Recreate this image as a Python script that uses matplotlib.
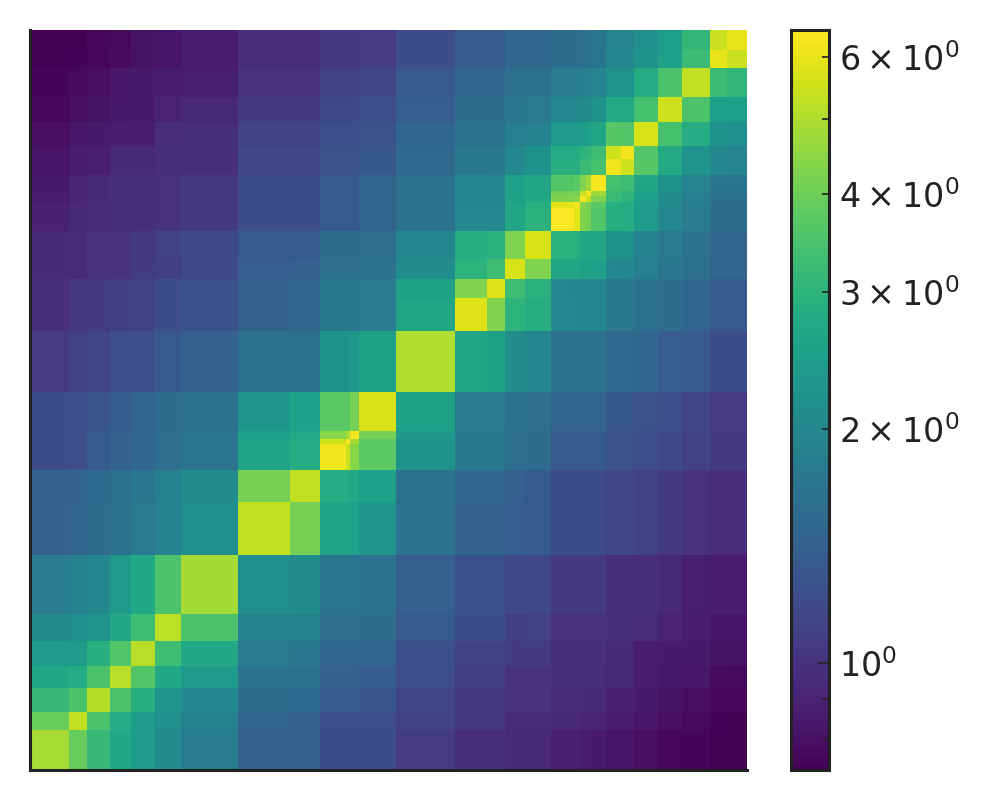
import numpy as np
import matplotlib
matplotlib.use("Agg")
import matplotlib.pyplot as plt
from matplotlib.colors import LogNorm

# Cell sizes along each axis (rows counted from the bottom)
cell_widths = [39,18,23,21,24,26,57,52,30,26,4,9,37,59,32,18,20,26,23,6,6,5,15,15,13,24,24,28,17,20]
cell_heights = [40,18,24,22,25,27,59,53,32,26,5,8,39,61,33,19,20,28,23,6,6,5,16,16,13,24,25,29,18,20]

# Upper triangle of the symmetric matrix, one list per row
row_00 = [4.9,3.9,3.15,2.7,2.4,2.1,1.8,1.43,1.43,1.2,1.2,1.2,1.2,1.07,.98,.98,.94,.94,.89,.89,.87,.87,.85,.82,.82,.79,.76,.75,.73,.73]
row_01 = [5.3,3.5,2.8,2.42,2.15,1.87,1.48,1.45,1.22,1.22,1.22,1.22,1.1,1.03,1.03,.95,.95,.93,.93,.91,.91,.91,.86,.86,.83,.79,.77,.74,.73]
row_02 = [5.1,3.5,2.9,2.25,2.0,1.58,1.55,1.35,1.35,1.35,1.3,1.13,1.05,1.05,1.0,1.0,.95,.95,.93,.93,.93,.88,.88,.85,.81,.79,.76,.76]
row_03 = [5.2,3.6,2.7,2.37,1.65,1.62,1.43,1.43,1.43,1.37,1.22,1.08,1.08,1.0,1.0,.97,.97,.97,.97,.97,.93,.93,.87,.84,.83,.78,.77]
row_04 = [5.2,3.3,2.7,1.78,1.72,1.5,1.5,1.5,1.47,1.23,1.1,1.1,1.05,1.05,.98,.98,.98,.98,.98,.94,.94,.87,.85,.85,.81,.81]
row_05 = [5.25,3.5,1.92,1.9,1.6,1.6,1.6,1.58,1.33,1.2,1.2,1.08,1.1,1.0,1.0,1.0,1.0,1.0,.98,.98,.96,.9,.87,.82,.82]
row_06 = [4.85,2.15,2.1,1.7,1.7,1.7,1.65,1.4,1.26,1.26,1.17,1.17,1.06,1.06,1.06,1.06,1.06,.98,.98,.97,.93,.88,.86,.86]
row_07 = [5.3,4.1,2.6,2.6,2.5,2.3,1.67,1.45,1.45,1.38,1.33,1.2,1.2,1.2,1.2,1.2,1.15,1.15,1.1,1.05,1.0,.96,.96]
row_08 = [5.3,2.8,2.8,2.7,2.5,1.67,1.5,1.5,1.4,1.35,1.2,1.2,1.2,1.2,1.2,1.15,1.15,1.1,1.05,1.0,.96,.96]
row_09 = [6.2,5.5,4.4,3.7,2.2,1.76,1.76,1.6,1.58,1.33,1.33,1.33,1.33,1.33,1.27,1.27,1.22,1.18,1.1,1.05,1.05]
row_10 = [6.4,4.9,3.75,2.2,1.76,1.76,1.6,1.58,1.33,1.33,1.33,1.33,1.33,1.27,1.27,1.22,1.18,1.1,1.05,1.05]
row_11 = [6.3,4.1,2.35,1.76,1.76,1.6,1.58,1.33,1.33,1.33,1.33,1.33,1.27,1.27,1.22,1.18,1.1,1.05,1.05]
row_12 = [5.7,2.55,1.8,1.8,1.65,1.6,1.47,1.47,1.47,1.47,1.47,1.32,1.32,1.27,1.22,1.13,1.07,1.07]
row_13 = [5.0,2.65,2.55,2.1,2.0,1.67,1.67,1.67,1.67,1.67,1.52,1.52,1.5,1.38,1.33,1.2,1.2]
row_14 = [5.85,4.3,3.0,2.85,2.05,2.05,2.0,2.0,2.0,1.75,1.75,1.65,1.58,1.5,1.35,1.35]
row_15 = [5.8,3.3,2.95,2.05,2.02,2.0,2.0,1.98,1.75,1.75,1.65,1.58,1.5,1.35,1.35]
row_16 = [5.7,4.25,2.65,2.65,2.55,2.55,2.5,2.05,2.0,1.85,1.72,1.62,1.5,1.5]
row_17 = [5.7,2.95,2.9,2.7,2.65,2.65,2.2,2.2,1.9,1.78,1.65,1.5,1.5]
row_18 = [6.5,5.9,4.3,4.1,3.6,2.9,2.8,2.4,2.05,1.8,1.58,1.58]
row_19 = [6.3,4.4,4.1,3.7,2.9,2.8,2.4,2.05,1.8,1.58,1.58]
row_20 = [6.4,5.4,4.3,3.2,3.0,2.45,2.1,1.85,1.6,1.6]
row_21 = [6.4,4.7,3.2,3.05,2.5,2.1,1.85,1.62,1.62]
row_22 = [6.3,3.4,3.3,2.65,2.2,1.95,1.7,1.7]
row_23 = [6.2,5.5,3.65,2.75,2.25,2.0,1.95]
row_24 = [6.2,3.6,2.75,2.25,2.0,1.95]
row_25 = [5.7,3.4,2.8,2.2,2.15]
row_26 = [5.5,3.5,2.5,2.45]
row_27 = [5.3,3.25,3.1]
row_28 = [6.0,5.45]
row_29 = [6.0]

rows = [row_00,row_01,row_02,row_03,row_04,row_05,row_06,row_07,row_08,row_09,
        row_10,row_11,row_12,row_13,row_14,row_15,row_16,row_17,row_18,row_19,
        row_20,row_21,row_22,row_23,row_24,row_25,row_26,row_27,row_28,row_29]

n = len(rows)
matrix = np.zeros((n, n))
for i, r in enumerate(rows):
    matrix[i, i:] = r
    matrix[i:, i] = r

x_edges = np.concatenate([[0], np.cumsum(cell_widths)])
y_edges = np.concatenate([[0], np.cumsum(cell_heights)])

ink = "#222222"
plt.rcParams["font.family"] = "DejaVu Sans"

fig = plt.figure(figsize=(5, 4), dpi=200)
W, H = 1000, 800
ax = fig.add_axes([30 / W, 1 - 770 / H, (747 - 30) / W, 740 / H])
cax = fig.add_axes([791 / W, 1 - 770 / H, 38 / W, 740 / H])

mesh = ax.pcolormesh(x_edges, y_edges, matrix, cmap="viridis", norm=LogNorm(),
                     shading="flat", linewidth=0, rasterized=True)
ax.set_xlim(x_edges[0], x_edges[-1])
ax.set_ylim(y_edges[0], y_edges[-1])
ax.set_xticks([])
ax.set_yticks([])
ax.spines["top"].set_visible(False)
ax.spines["right"].set_visible(False)
for s in ("left", "bottom"):
    ax.spines[s].set_color(ink)
    ax.spines[s].set_linewidth(1.1)

cb = fig.colorbar(mesh, cax=cax)
cb.outline.set_edgecolor(ink)
cb.outline.set_linewidth(1.1)
cax.tick_params(which="major", direction="in", length=4, width=0.6, color=ink,
                labelcolor=ink, labelsize=12, pad=3.5)
cax.tick_params(which="minor", direction="in", length=2.5, width=0.6, color=ink,
                labelcolor=ink, labelsize=12, pad=3.5)

fig.savefig("out.png", dpi=200, facecolor="white")
